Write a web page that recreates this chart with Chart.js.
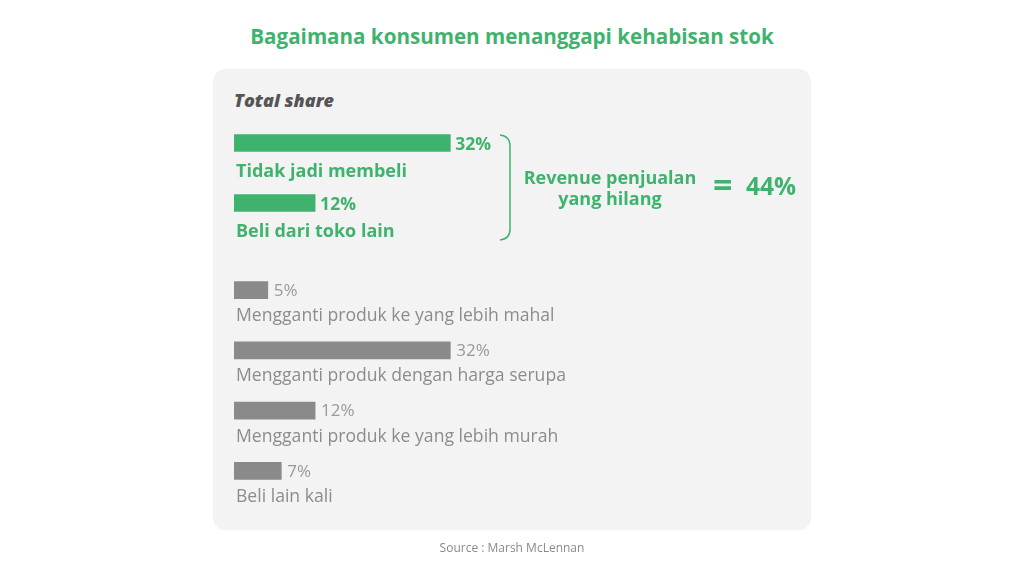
<!DOCTYPE html>
<html>
<head>
<meta charset="utf-8">
<script src="https://cdn.jsdelivr.net/npm/chart.js@4.4.1/dist/chart.umd.min.js"></script>
<style>
  html, body { margin:0; padding:0; background:#fff; }
  #wrap { position:relative; width:1024px; height:576px; overflow:hidden; font-family:'Open Sans', sans-serif; }
  #title { position:absolute; left:0; width:1024px; top:22px; text-align:center; font-weight:700; font-size:20.6px; line-height:28px; color:#3fb36e; }
  #panel { position:absolute; left:213px; top:69px; width:598px; height:461px; background:#f3f3f3; border-radius:12px; }
  #total { position:absolute; left:234px; top:89px; font-weight:800; font-style:italic; font-size:18px; line-height:22px; color:#555; }
  canvas { position:absolute; left:0; top:0; }
  #brace { position:absolute; left:0; top:0; }
  #revenue { position:absolute; left:510px; width:200px; top:167px; text-align:center; font-weight:700; font-size:18px; line-height:21px; color:#3fb36e; }
  #eq { position:absolute; left:713px; top:164px; font-weight:700; font-size:34px; line-height:40px; color:#3fb36e; }
  #sum { position:absolute; left:746px; top:174px; font-weight:700; font-size:24.5px; line-height:24px; color:#3fb36e; }
  #source { position:absolute; left:0; width:1024px; top:539px; text-align:center; font-size:12px; line-height:18px; color:#8a8a8a; }
</style>
</head>
<body>
<div id="wrap">
  <div id="title">Bagaimana konsumen menanggapi kehabisan stok</div>
  <div id="panel"></div>
  <div id="total">Total share</div>
  <canvas id="lostChart" width="1024" height="576"></canvas>
  <canvas id="otherChart" width="1024" height="576"></canvas>
  <svg id="brace" width="1024" height="576"><path d="M500,135 Q510,136 510,146 L510,229 Q510,239 500,240" fill="none" stroke="#3fb36e" stroke-width="1.5"/></svg>
  <div id="revenue">Revenue penjualan<br>yang hilang</div>
  <div id="eq">=</div>
  <div id="sum"></div>
  <div id="source">Source : Marsh McLennan</div>
</div>
<script>
// ---- data ----
const lostCategories = ['Tidak jadi membeli', 'Beli dari toko lain'];
const lostValues = [32, 12];
const otherCategories = ['Mengganti produk ke yang lebih mahal', 'Mengganti produk dengan harga serupa', 'Mengganti produk ke yang lebih murah', 'Beli lain kali'];
const otherValues = [5, 32, 12, 7];
const axisMax = 40;

const GREEN = '#3fb36e';
const GRAY_BAR = '#8a8a8a';
const GRAY_TEXT = '#8c8c8c';

document.getElementById('sum').textContent = lostValues.reduce((a, b) => a + b, 0) + '%';

function labelPlugin(opts) {
  return {
    id: 'rowLabels',
    afterDatasetsDraw(chart) {
      const ctx = chart.ctx;
      const meta = chart.getDatasetMeta(0);
      const area = chart.chartArea;
      ctx.save();
      meta.data.forEach((bar, i) => {
        const v = chart.data.datasets[0].data[i];
        ctx.fillStyle = opts.valueColor;
        ctx.font = opts.valueFont;
        ctx.textAlign = 'left';
        ctx.textBaseline = 'middle';
        ctx.fillText(v + '%', bar.x + opts.valueGap, bar.y + opts.valueDy);
        ctx.fillStyle = opts.catColor;
        ctx.font = opts.catFont;
        ctx.textBaseline = 'alphabetic';
        ctx.fillText(chart.data.labels[i], area.left + 2, bar.y + opts.catDy);
      });
      ctx.restore();
    }
  };
}

function makeChart(id, labels, values, color, padTop, padBottom, plug) {
  const left = 234;
  const width = 6.76 * axisMax;
  return new Chart(document.getElementById(id), {
    type: 'bar',
    data: {
      labels: labels,
      datasets: [{ data: values, backgroundColor: color, borderWidth: 0, barThickness: 17 }]
    },
    options: {
      indexAxis: 'y',
      responsive: false,
      animation: false,
      layout: { padding: { left: left, right: 1024 - left - width, top: padTop, bottom: padBottom } },
      scales: {
        x: { display: false, min: 0, max: axisMax },
        y: { display: false }
      },
      plugins: { legend: { display: false }, tooltip: { enabled: false }, title: { display: false } }
    },
    plugins: [plug]
  });
}

makeChart('lostChart', lostCategories, lostValues, GREEN, 113, 576 - 233,
  labelPlugin({ valueColor: GREEN, valueFont: "700 17.5px 'Open Sans'", valueGap: 5, valueDy: 2,
                catColor: GREEN, catFont: "700 18px 'Open Sans'", catDy: 34 }));

makeChart('otherChart', otherCategories, otherValues, GRAY_BAR, 260, 576 - 501,
  labelPlugin({ valueColor: '#999', valueFont: "400 17px 'Open Sans'", valueGap: 6, valueDy: 1,
                catColor: GRAY_TEXT, catFont: "400 17.6px 'Open Sans'", catDy: 31 }));
</script>
</body>
</html>
